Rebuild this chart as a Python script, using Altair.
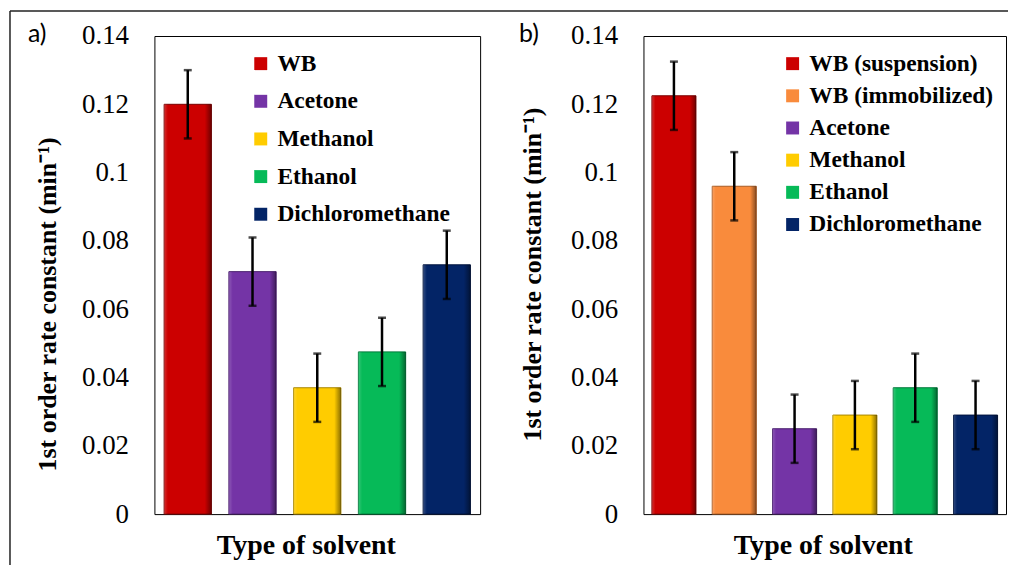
import altair as alt
import pandas as pd

# ---- data ----
cats_a = ["WB", "Acetone", "Methanol", "Ethanol", "Dichloromethane"]
vals_a = [0.120, 0.071, 0.037, 0.0475, 0.073]
errs_a = [0.010, 0.010, 0.010, 0.010, 0.010]
cols_a = ["#CC0000", "#7434A6", "#FFCC00", "#06BA58", "#032466"]
edge_a = ["#7A0000", "#4A1F6E", "#A88600", "#00793A", "#00133D"]

cats_b = ["WB (suspension)", "WB (immobilized)", "Acetone", "Methanol", "Ethanol", "Dichloromethane"]
vals_b = [0.1225, 0.096, 0.025, 0.029, 0.037, 0.029]
errs_b = [0.010, 0.010, 0.010, 0.010, 0.010, 0.010]
cols_b = ["#CC0000", "#F98B3C", "#7434A6", "#FFCC00", "#06BA58", "#032466"]
edge_b = ["#7A0000", "#A85A22", "#4A1F6E", "#A88600", "#00793A", "#00133D"]

y_ticks = [0, 0.02, 0.04, 0.06, 0.08, 0.1, 0.12, 0.14]
x_title = "Type of solvent"
y_title = "1st order rate constant (min\u207b\u00b9)"

SERIF = "Liberation Serif"


def make_df(cats, vals, errs):
    return pd.DataFrame({
        "solvent": cats,
        "k": vals,
        "lo": [v - e for v, e in zip(vals, errs)],
        "hi": [v + e for v, e in zip(vals, errs)],
    })


def panel(cats, vals, errs, cols, edges, width, pad_outer, legend_x, legend_y,
          row_pad, xtitle_x, ytitle_x, ytitle_y, label, label_x, border=False):
    df = make_df(cats, vals, errs)
    base = alt.Chart(df)
    xenc = alt.X("solvent:N", sort=cats,
                 scale=alt.Scale(paddingInner=0.27, paddingOuter=pad_outer),
                 axis=alt.Axis(labels=False, ticks=False, domain=False,
                               title=x_title, titleFont=SERIF, titleFontSize=28,
                               titleFontWeight="bold", titleColor="black",
                               titleX=xtitle_x, titleY=40, titleAlign="center",
                               titleBaseline="alphabetic"))
    yenc = alt.Y("k:Q", scale=alt.Scale(domain=[0, 0.14], nice=False, zero=True),
                 axis=alt.Axis(values=y_ticks, format="~g", ticks=False, domain=False,
                               grid=False, labelFont=SERIF, labelFontSize=27,
                               labelColor="black", labelPadding=26, labelFlush=False,
                               title=y_title, titleFont=SERIF, titleFontSize=26,
                               titleFontWeight="bold", titleColor="black",
                               titleX=ytitle_x, titleY=ytitle_y, titleAngle=270,
                               titleAlign="center", titleBaseline="middle"))
    bars = base.mark_bar(strokeWidth=1).encode(
        x=xenc, y=yenc,
        color=alt.Color("solvent:N", sort=cats,
                        scale=alt.Scale(domain=cats, range=cols),
                        legend=alt.Legend(orient="none", legendX=legend_x, legendY=legend_y,
                                          title=None, symbolType="square", symbolSize=169,
                                          symbolStrokeWidth=0, labelFont=SERIF,
                                          labelFontSize=23.5, labelFontWeight="bold",
                                          labelColor="black", labelOffset=5,
                                          rowPadding=row_pad, padding=0,
                                          labelLimit=400)),
        stroke=alt.Stroke("solvent:N", sort=cats,
                          scale=alt.Scale(domain=cats, range=edges), legend=None),
    )
    shade = base.mark_bar(fill=alt.Gradient(
        gradient="linear", x1=0, x2=1, y1=0, y2=0,
        stops=[alt.GradientStop(offset=0, color="rgba(255,255,255,0.18)"),
               alt.GradientStop(offset=0.08, color="rgba(255,255,255,0)"),
               alt.GradientStop(offset=0.86, color="rgba(0,0,0,0)"),
               alt.GradientStop(offset=1, color="rgba(0,0,0,0.45)")])).encode(
        x=alt.X("solvent:N", sort=cats), y="k:Q")
    rule = base.mark_rule(color="black", strokeWidth=2.5).encode(
        x=alt.X("solvent:N", sort=cats), y="lo:Q", y2="hi:Q")
    tick_lo = base.mark_tick(color="black", size=8, thickness=2.5).encode(
        x=alt.X("solvent:N", sort=cats), y="lo:Q")
    tick_hi = base.mark_tick(color="black", size=8, thickness=2.5).encode(
        x=alt.X("solvent:N", sort=cats), y="hi:Q")
    lab = alt.Chart(pd.DataFrame({"t": [label]})).mark_text(
        font="Lato", fontSize=25, align="left", baseline="alphabetic", color="black"
    ).encode(text="t:N", x=alt.value(label_x), y=alt.value(6))
    layers = [bars, shade, rule, tick_lo, tick_hi, lab]
    if border:
        one = alt.Chart(pd.DataFrame({"b": [1]}))
        top = one.mark_rule(color="#222", strokeWidth=1.5).encode(
            x=alt.value(-145), x2=alt.value(857), y=alt.value(-25))
        left = one.mark_rule(color="#222", strokeWidth=1.5).encode(
            x=alt.value(-145), y=alt.value(-25), y2=alt.value(531))
        layers += [top, left]
    return alt.layer(*layers).properties(width=width, height=480)


pa = panel(cats_a, vals_a, errs_a, cols_a, edge_a, 327, 0.15, 95, 16, 12.8,
           152, -107, 269, "a)", -127, border=True)
pb = panel(cats_b, vals_b, errs_b, cols_b, edge_b, 364, 0.14, 138, 16, 7.3,
           180, -111, 239, "b)", -125)

chart = alt.hconcat(pa, pb, spacing=164, bounds="flush").resolve_scale(
    color="independent", stroke="independent", x="independent", y="independent"
).resolve_legend(color="independent").properties(
    padding=0, background="white"
).configure_view(stroke="black", strokeWidth=1).configure_axis(
    labelFont=SERIF, titleFont=SERIF
).configure_legend(labelFont=SERIF)

chart.save("out.html", embed_options={"renderer": "svg", "actions": False})
